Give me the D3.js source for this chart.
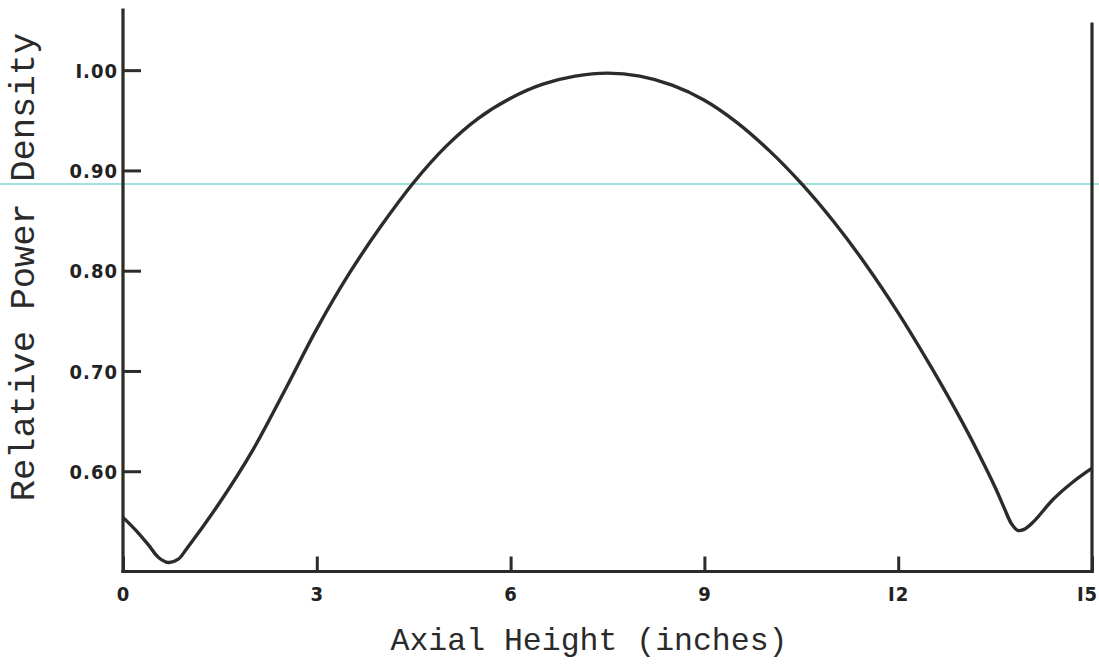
<!DOCTYPE html>
<html>
<head>
<meta charset="utf-8">
<script src="https://cdn.jsdelivr.net/npm/d3@7"></script>
<style>
  html, body { margin: 0; padding: 0; background: #fff; }
  svg { display: block; }
  .tick text { font-family: "Liberation Sans Narrow", "DejaVu Sans Condensed", "Arial Narrow", sans-serif; font-weight: bold; font-size: 20px; fill: #222; }
  .title { font-family: "Liberation Mono", "DejaVu Sans Mono", "Courier New", monospace; fill: #2a2a2a; }
</style>
</head>
<body>
<svg id="chart" width="1099" height="665"></svg>
<script>
// Axial power profile: height along the element (inches) vs relative power density
const axialHeight = [0, 0.2, 0.4, 0.55, 0.7, 0.85, 1.0, 1.5, 2.0, 2.5, 3.0, 3.5, 4.0, 4.5, 5.0, 5.5, 6.0, 6.5, 7.0, 7.5, 8.0, 8.5, 9.0, 9.5, 10.0, 10.5, 11.0, 11.5, 12.0, 12.5, 13.0, 13.25, 13.5, 13.65, 13.75, 13.85, 13.95, 14.1, 14.4, 14.7, 15.0];
const powerDensity = [0.554, 0.541, 0.526, 0.514, 0.509, 0.512, 0.524, 0.569, 0.620, 0.680, 0.742, 0.797, 0.845, 0.888, 0.924, 0.952, 0.972, 0.986, 0.994, 0.997, 0.994, 0.985, 0.970, 0.948, 0.920, 0.887, 0.849, 0.806, 0.758, 0.705, 0.648, 0.617, 0.584, 0.562, 0.548, 0.541, 0.542, 0.550, 0.572, 0.589, 0.603];

const xTicks = [0, 3, 6, 9, 12, 15];
const yTicks = [0.60, 0.70, 0.80, 0.90, 1.00];
const referenceLevel = [0.8865];

const svg = d3.select("#chart");
const ink = "#2b2b28";

const x = d3.scaleLinear().domain([0, 15]).range([123, 1092]);
const y = d3.scaleLinear().domain([0.5, 1.06]).range([571.5, 10]);

// horizontal reference level across the sheet
svg.selectAll("line.ref").data(referenceLevel).join("line")
  .attr("class", "ref")
  .attr("x1", 0).attr("x2", 1099)
  .attr("y1", d => y(d)).attr("y2", d => y(d))
  .attr("stroke", "#9fe3dc").attr("stroke-width", 2);

// frame: left, bottom and right edges
const frame = svg.append("g").attr("stroke", ink).attr("stroke-width", 3.2).attr("stroke-linecap", "square");
frame.append("line").attr("x1", x(0)).attr("x2", x(0)).attr("y1", y(1.06)).attr("y2", y(0.5));
frame.append("line").attr("x1", x(0)).attr("x2", x(15)).attr("y1", y(0.5)).attr("y2", y(0.5));
frame.append("line").attr("x1", x(15)).attr("x2", x(15)).attr("y1", y(1.046)).attr("y2", y(0.5));

// y axis, ticks pointing inward
const yAxis = d3.axisLeft(y).tickValues(yTicks).tickFormat(d3.format(".2f")).tickSize(-18).tickPadding(5);
const gy = svg.append("g").attr("transform", `translate(${x(0)},0)`).call(yAxis);
gy.select(".domain").remove();
gy.selectAll(".tick line").attr("stroke", ink).attr("stroke-width", 3);
gy.selectAll(".tick text").attr("dy", "0.36em").attr("letter-spacing", "1px")
  .text(d => d === 1 ? "I.00" : d3.format(".2f")(d));

// x axis, ticks pointing up
const xAxis = d3.axisBottom(x).tickValues(xTicks).tickFormat(d => d === 12 ? "I2" : d === 15 ? "I5" : d).tickSize(-15).tickPadding(15);
const gx = svg.append("g").attr("transform", `translate(0,${y(0.5)})`).call(xAxis);
gx.select(".domain").remove();
gx.selectAll(".tick line").attr("stroke", ink).attr("stroke-width", 3);
gx.selectAll(".tick text").attr("letter-spacing", "1px")
  .attr("dx", d => d === 15 ? "-5" : "0");

// power profile curve
const line = d3.line()
  .x((d, i) => x(axialHeight[i]))
  .y(d => y(d))
  .curve(d3.curveCatmullRom.alpha(0.5));
svg.append("path")
  .datum(powerDensity)
  .attr("d", line)
  .attr("fill", "none")
  .attr("stroke", ink)
  .attr("stroke-width", 3.4)
  .attr("stroke-linejoin", "round");

// axis titles
svg.append("text").attr("class", "title")
  .attr("x", 589).attr("y", 650)
  .attr("text-anchor", "middle")
  .style("font-size", "31.5px")
  .text("Axial Height (inches)");

svg.append("text").attr("class", "title")
  .attr("transform", "translate(34,267) rotate(-90)")
  .attr("text-anchor", "middle")
  .style("font-size", "35.5px")
  .text("Relative Power Density");
</script>
</body>
</html>
